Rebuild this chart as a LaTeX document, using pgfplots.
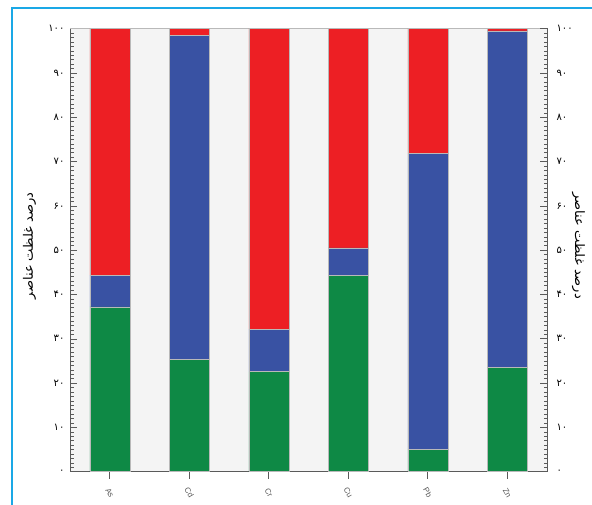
\documentclass[border=0pt]{standalone}
\usepackage{pgfplots}
\pgfplotsset{compat=1.18}
\usepackage{fontspec}
\setmainfont{Liberation Sans}
\TeXXeTstate=1
\newfontfamily\arabicfont[Script=Arabic]{DejaVu Sans}
\definecolor{cred}{RGB}{237,31,36}
\definecolor{cblue}{RGB}{57,82,163}
\definecolor{cgreen}{RGB}{14,137,69}
\definecolor{bgc}{RGB}{244,244,244}
\definecolor{frameblue}{RGB}{26,168,230}
\definecolor{axc}{RGB}{90,90,90}
\begin{document}
\begin{tikzpicture}
\useasboundingbox (0pt,0pt) rectangle (592pt,504pt);
\draw[frameblue, line width=2.5pt] (12pt,-10pt) -- (12pt,496pt) -- (600pt,496pt);
\begin{axis}[
  at={(70pt,32.3pt)}, anchor=south west,
  scale only axis, width=477pt, height=443pt,
  xmin=-0.5, xmax=5.5, ymin=0, ymax=100,
  ybar stacked, bar width=40pt,
  axis background/.style={fill=bgc},
  axis line style={axc, line width=0.9pt},
  xtick={0,1,2,3,4,5},
  xticklabels={As,Cd,Cr,Cu,Pb,Zn},
  xtick pos=bottom, x tick style={axc, line width=0.8pt},
  xtick align=outside, major tick length=7pt,
  xticklabel shift=14pt,
  xticklabel style={rotate=-60, anchor=center, font=\fontsize{8}{8}\selectfont, text=axc},
  ytick={0,10,...,100},
  yticklabels={۰,۱۰,۲۰,۳۰,۴۰,۵۰,۶۰,۷۰,۸۰,۹۰,۱۰۰},
  yticklabel style={font=\arabicfont\fontsize{10}{10}\selectfont, xshift=-2pt},
  ytick pos=left, ytick align=inside,
  minor y tick num=9,
  y tick style={axc, line width=0.6pt},
  minor tick length=3.5pt,
  ylabel={\arabicfont\fontsize{13}{13}\selectfont\beginR درصد غلظت عناصر\endR},
  ylabel style={at={(axis description cs:-0.085,0.51)}, anchor=center},
  clip=false,
]
\addplot[fill=cgreen, draw=gray!55, line width=0.5pt] coordinates {(0,37.2) (1,25.4) (2,22.6) (3,44.4) (4,5.1) (5,23.6)};
\addplot[fill=cblue, draw=gray!55, line width=0.5pt] coordinates {(0,7.2) (1,73.1) (2,9.6) (3,6.1) (4,66.7) (5,75.9)};
\addplot[fill=cred, draw=gray!55, line width=0.5pt] coordinates {(0,55.6) (1,1.5) (2,67.8) (3,49.5) (4,28.2) (5,0.5)};
\draw[gray!55, line width=1.5pt] (rel axis cs:0,1) -- (rel axis cs:1,1);
\node[rotate=-90, anchor=center] at (rel axis cs:1.066,0.51) {\arabicfont\fontsize{13}{13}\selectfont\beginR درصد غلظت عناصر\endR};
\end{axis}
\begin{axis}[
  at={(70pt,32.3pt)}, anchor=south west,
  scale only axis, width=477pt, height=443pt,
  xmin=-0.5, xmax=5.5, ymin=0, ymax=100,
  axis x line=none, axis y line*=right, xtick=\empty,
  axis line style={axc, line width=0.9pt, -},
  ytick={0,10,...,100},
  yticklabels={۰,۱۰,۲۰,۳۰,۴۰,۵۰,۶۰,۷۰,۸۰,۹۰,۱۰۰},
  yticklabel style={font=\arabicfont\fontsize{10}{10}\selectfont, xshift=6pt},
  ytick align=inside, major tick length=7pt,
  minor y tick num=9, minor tick length=3.5pt,
  y tick style={axc, line width=0.6pt},
]
\end{axis}
\end{tikzpicture}
\end{document}
